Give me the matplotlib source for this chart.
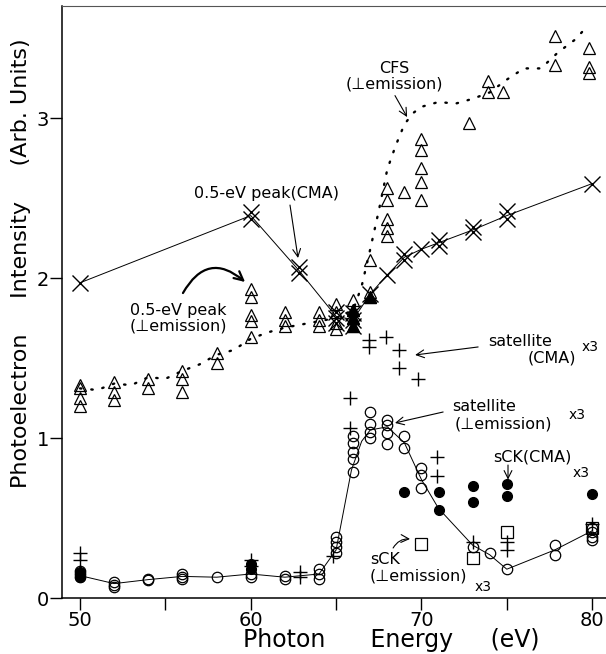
import matplotlib
matplotlib.use("Agg")
import matplotlib.pyplot as plt

plt.rcParams['font.family'] = ['DejaVu Sans']

# 0.5-eV peak (CMA), crosses
cma_peak_e = [50, 60, 60, 62.8, 62.8, 65, 65, 65, 66, 66, 66, 67, 68, 69, 69, 70, 71, 71, 73, 73, 75, 75, 80]
cma_peak_v = [1.97, 2.41, 2.37, 2.07, 2.03, 1.79, 1.75, 1.72, 1.78, 1.74, 1.70, 1.90, 2.02, 2.15, 2.11,
              2.18, 2.24, 2.20, 2.32, 2.29, 2.42, 2.37, 2.59]
cma_line_e = [50, 60, 62.8, 65, 66, 67, 68, 69, 70, 71, 73, 75, 80]
cma_line_v = [1.97, 2.39, 2.05, 1.76, 1.74, 1.90, 2.02, 2.13, 2.18, 2.22, 2.30, 2.39, 2.59]

# 0.5-eV peak / CFS (perpendicular emission), open triangles
perp_e = [50, 50, 50, 50, 52, 52, 52, 54, 54, 56, 56, 56, 58, 58, 60, 60, 60, 60, 60,
          62, 62, 62, 64, 64, 64, 65, 65, 65, 65, 66, 66, 66, 66, 67, 67, 67,
          68, 68, 68, 68, 68, 69, 70, 70, 70, 70, 70, 72.8, 73.9, 73.9, 74.8,
          77.8, 77.8, 79.8, 79.8, 79.8]
perp_v = [1.33, 1.31, 1.25, 1.20, 1.35, 1.29, 1.24, 1.37, 1.31, 1.42, 1.37, 1.29, 1.53, 1.47,
          1.93, 1.88, 1.77, 1.73, 1.63, 1.79, 1.74, 1.70, 1.79, 1.74, 1.70, 1.84, 1.79, 1.72, 1.68,
          1.86, 1.80, 1.75, 1.70, 2.11, 1.91, 1.88, 2.56, 2.49, 2.37, 2.31, 2.26, 2.54,
          2.87, 2.80, 2.69, 2.60, 2.49, 2.97, 3.23, 3.16, 3.16, 3.51, 3.33, 3.44, 3.32, 3.28]
dense_tri_e = [66, 66, 66, 67]
dense_tri_v = [1.80, 1.75, 1.70, 1.88]

# CFS dotted curve
cfs_e = [50, 51, 52, 53, 54, 55, 56, 57, 58, 59, 60, 61, 62, 63, 64, 65, 66, 66.5, 67, 67.5,
         68, 68.5, 69, 69.5, 70, 71, 72, 73, 74, 75, 76, 77, 78, 79, 79.6]
cfs_v = [1.31, 1.30, 1.34, 1.33, 1.38, 1.37, 1.42, 1.46, 1.52, 1.55, 1.62, 1.66, 1.69, 1.71,
         1.73, 1.75, 1.80, 1.95, 2.18, 2.42, 2.68, 2.83, 2.96, 3.03, 3.07, 3.10, 3.09, 3.12,
         3.16, 3.24, 3.31, 3.31, 3.41, 3.49, 3.56]

# satellite (CMA) x3, plus signs
sat_cma_e = [50, 50, 60, 60, 62.9, 62.9, 64.8, 65.8, 65.8, 66.9, 66.9, 67.9, 68.7, 68.7, 69.8,
             70.9, 70.9, 73, 75, 75, 80]
sat_cma_v = [0.28, 0.24, 0.24, 0.20, 0.16, 0.13, 0.26, 1.25, 1.06, 1.61, 1.57, 1.63, 1.55, 1.44,
             1.37, 0.88, 0.76, 0.35, 0.35, 0.30, 0.46]

# satellite (perp emission) x3, open circles
sat_perp_e = [50, 50, 50, 52, 52, 52, 54, 54, 56, 56, 56, 58, 60, 60, 62, 62, 64, 64, 64,
              65, 65, 65, 65, 66, 66, 66, 66, 66, 67, 67, 67, 67, 68, 68, 68, 68, 69, 69,
              70, 70, 70, 73, 74, 75, 77.8, 77.8, 80, 80, 80, 80]
sat_perp_v = [0.17, 0.15, 0.13, 0.10, 0.08, 0.07, 0.12, 0.11, 0.15, 0.13, 0.12, 0.13, 0.15, 0.13,
              0.14, 0.12, 0.18, 0.15, 0.12, 0.38, 0.35, 0.32, 0.28, 1.01, 0.97, 0.91, 0.87, 0.79,
              1.16, 1.09, 1.04, 1.00, 1.11, 1.08, 1.03, 0.96, 1.01, 0.94, 0.81, 0.77, 0.69,
              0.32, 0.28, 0.18, 0.33, 0.27, 0.44, 0.41, 0.38, 0.36]
sat_line_e = [50, 52, 54, 56, 58, 60, 62, 64, 65, 65.9, 66.5, 67, 68, 69, 70, 71, 73, 74, 75, 77.8, 80]
sat_line_v = [0.14, 0.09, 0.115, 0.135, 0.13, 0.15, 0.13, 0.15, 0.30, 0.80, 0.98, 1.05, 1.07,
              0.97, 0.74, 0.56, 0.33, 0.27, 0.18, 0.30, 0.42]

# sCK (CMA) x3, filled circles
sck_cma_e = [50, 50, 60, 60, 69, 71, 71, 73, 73, 75, 75, 80]
sck_cma_v = [0.16, 0.13, 0.21, 0.18, 0.66, 0.66, 0.55, 0.70, 0.60, 0.71, 0.64, 0.65]

# sCK (perp emission) x3, open squares
sck_perp_e = [70, 73, 75, 80]
sck_perp_v = [0.34, 0.25, 0.41, 0.44]

x_ticks = [50, 55, 60, 65, 70, 75, 80]
x_ticklabels = ['50', '', '60', '', '70', '', '80']
y_ticks = [0, 1, 2, 3]

fig = plt.figure(figsize=(6.06, 6.54), dpi=100)
ax = fig.add_axes([62 / 606, 56 / 654, 544 / 606, 592 / 654])

thin = dict(color='black', lw=0.7)
ax.plot(cfs_e, cfs_v, color='black', lw=1.7, linestyle=(0, (0.6, 4.2)), dash_capstyle='round')
ax.plot(cma_line_e, cma_line_v, **thin)
ax.plot(sat_line_e, sat_line_v, **thin)

ax.plot(perp_e, perp_v, '^', ms=8, mfc='none', mec='black', mew=0.9)
ax.plot(dense_tri_e, dense_tri_v, '^', ms=8, mfc='black', mec='black', mew=0.9)
ax.plot(cma_peak_e, cma_peak_v, 'x', ms=11, mec='black', mew=1.0)
ax.plot(sat_cma_e, sat_cma_v, '+', ms=10, mec='black', mew=1.0)
ax.plot(sat_perp_e, sat_perp_v, 'o', ms=7.5, mfc='none', mec='black', mew=0.9)
ax.plot(sck_cma_e, sck_cma_v, 'o', ms=7, mfc='black', mec='black')
ax.plot(sck_perp_e, sck_perp_v, 's', ms=9, mfc='none', mec='black', mew=0.9)

ax.set_xlim(48.945, 80.81)
ax.set_ylim(0, 3.70)
ax.set_xticks(x_ticks)
ax.set_xticklabels(x_ticklabels)
ax.set_yticks(y_ticks)
ax.tick_params(direction='out', length=8.5, width=1, pad=1.0, labelsize=14)
ax.tick_params(axis='x', pad=0.5)
ax.spines['right'].set_visible(False)
ax.spines['top'].set_color('#555555')
for s in ['left', 'bottom']:
    ax.spines[s].set_linewidth(1.1)

fs = 11.5
arrow = dict(arrowstyle='->', lw=0.8, color='black', shrinkA=0, shrinkB=0, mutation_scale=14)

ax.text(60.93, 2.53, '0.5-eV peak(CMA)', fontsize=fs, ha='center', va='center')
ax.annotate('', xy=(62.77, 2.125), xytext=(62.30, 2.456), arrowprops=arrow)

ax.text(55.74, 1.75, '0.5-eV peak\n(\u22a5emission)', fontsize=fs, ha='center', va='center',
        linespacing=1.0)
ax.annotate('', xy=(59.67, 1.975), xytext=(56.03, 1.906),
            arrowprops=dict(arrowstyle='->', lw=1.6, color='black', shrinkA=0, shrinkB=0,
                            mutation_scale=16, connectionstyle='arc3,rad=-0.6'))

ax.text(68.4, 3.26, 'CFS\n(\u22a5emission)', fontsize=fs, ha='center', va='center', linespacing=1.0)
ax.annotate('', xy=(69.16, 3.006), xytext=(68.45, 3.14), arrowprops=arrow)

ax.text(75.78, 1.60, 'satellite', fontsize=fs, ha='center', va='center')
ax.text(77.65, 1.50, '(CMA)', fontsize=fs, ha='center', va='center')
ax.text(79.88, 1.57, 'x3', fontsize=10, ha='center', va='center')
ax.annotate('', xy=(69.63, 1.519), xytext=(73.32, 1.569), arrowprops=arrow)

ax.text(73.67, 1.194, 'satellite', fontsize=fs, ha='center', va='center')
ax.text(74.78, 1.0875, '(\u22a5emission)', fontsize=fs, ha='center', va='center')
ax.text(79.12, 1.144, 'x3', fontsize=10, ha='center', va='center')
ax.annotate('', xy=(68.45, 1.094), xytext=(71.27, 1.1625), arrowprops=arrow)

ax.text(76.48, 0.88, 'sCK(CMA)', fontsize=fs, ha='center', va='center')
ax.text(79.35, 0.78, 'x3', fontsize=10, ha='center', va='center')
ax.annotate('', xy=(75.07, 0.74), xytext=(75.07, 0.831), arrowprops=arrow)

ax.text(67.87, 0.2375, 'sCK', fontsize=fs, ha='center', va='center')
ax.text(69.8, 0.1375, '(\u22a5emission)', fontsize=fs, ha='center', va='center')
ax.text(73.6, 0.069, 'x3', fontsize=10, ha='center', va='center')
ax.annotate('', xy=(69.33, 0.369), xytext=(68.34, 0.3125),
            arrowprops=dict(arrowstyle='->', lw=0.8, color='black', shrinkA=0, shrinkB=0,
                            mutation_scale=14, connectionstyle='arc3,rad=-0.3'))

fig.text(391.5 / 606, 1 - 647 / 654, 'Photon      Energy     (eV)', fontsize=17,
         ha='center', va='baseline')
fig.text(21 / 606, 1 - 263.5 / 654, 'Photoelectron     Intensity     (Arb. Units)',
         fontsize=16, rotation=90, ha='center', va='center')

fig.savefig('out.png', dpi=100)
